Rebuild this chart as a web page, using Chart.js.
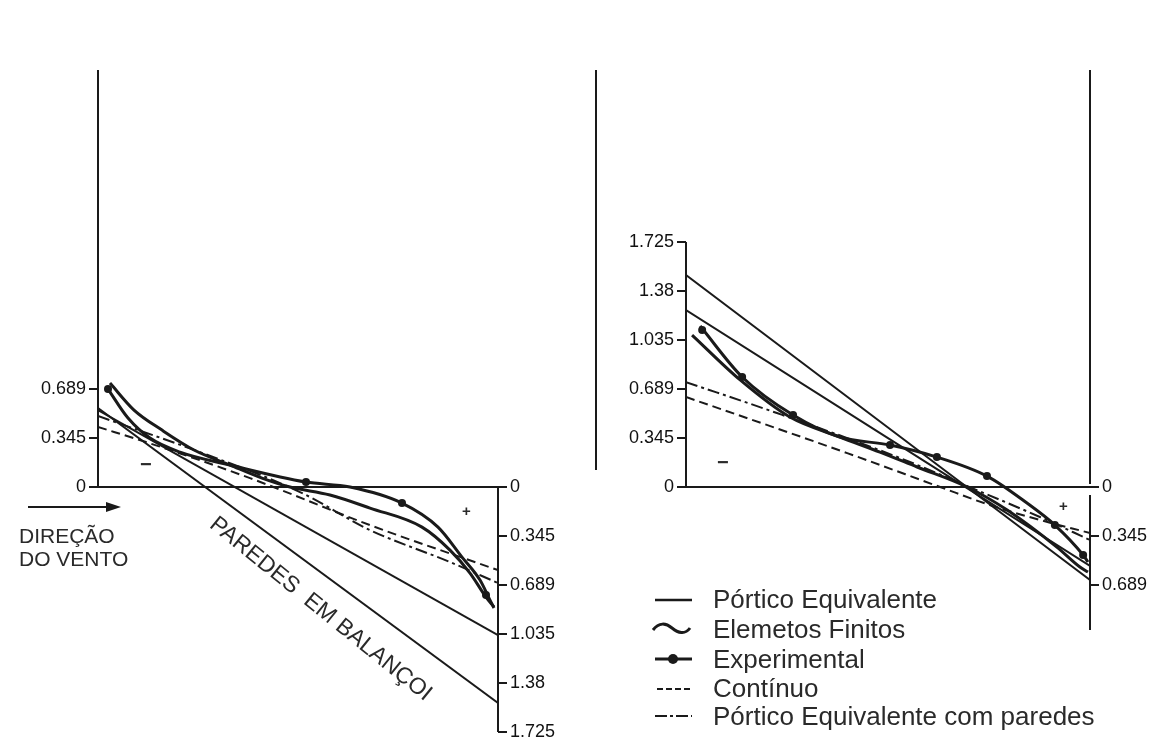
<!DOCTYPE html>
<html>
<head>
<meta charset="utf-8">
<script src="https://cdn.jsdelivr.net/npm/chart.js@4.4.0/dist/chart.umd.min.js"></script>
<style>
  body { margin: 0; background: #fff; }
  #wrap { position: relative; width: 1158px; height: 743px; overflow: hidden;
          font-family: 'Liberation Sans', Arial, sans-serif; color: #2a2a2a; }
  canvas { position: absolute; left: 0; top: 0; pointer-events: none; }
  svg { position: absolute; left: 0; top: 0; }
  .note { position: absolute; white-space: pre; }
  .leg { position: absolute; left: 713px; font-size: 26px; line-height: 30px; white-space: pre; }
</style>
</head>
<body>
<div id="wrap">
  <canvas id="chart-left" width="1158" height="743"></canvas>
  <canvas id="chart-right" width="1158" height="743"></canvas>

  <svg width="1158" height="743">
    <!-- wind arrow -->
    <line x1="28" y1="507" x2="110" y2="507" stroke="#1a1a1a" stroke-width="2"/>
    <polygon points="106,502 121,507 106,512" fill="#1a1a1a"/>
    <!-- legend symbols -->
    <line x1="655" y1="600" x2="692" y2="600" stroke="#1a1a1a" stroke-width="2.5"/>
    <path d="M653,630 C659,622 666,623 672,628 C678,633 685,635 690,628" fill="none" stroke="#1a1a1a" stroke-width="3"/>
    <line x1="655" y1="659" x2="692" y2="659" stroke="#1a1a1a" stroke-width="3"/>
    <circle cx="673" cy="659" r="5" fill="#1a1a1a"/>
    <line x1="657" y1="689" x2="692" y2="689" stroke="#1a1a1a" stroke-width="2" stroke-dasharray="6,3"/>
    <line x1="655" y1="716" x2="692" y2="716" stroke="#1a1a1a" stroke-width="2" stroke-dasharray="12,3,3,3"/>
  </svg>

  <div class="note" style="left:19px; top:524px; font-size:21px; line-height:23px;">DIREÇÃO
DO VENTO</div>
  <div class="note" style="left:221px; top:511px; font-size:23px; line-height:24px; transform:rotate(39deg); transform-origin:0 0;">PAREDES  EM BALANÇOI</div>
  <div class="note" style="left:140px; top:453px; font-size:20px; font-weight:bold;">−</div>
  <div class="note" style="left:717px; top:451px; font-size:20px; font-weight:bold;">−</div>
  <div class="note" style="left:462px; top:502px; font-size:15px; font-weight:bold;">+</div>
  <div class="note" style="left:1059px; top:497px; font-size:15px; font-weight:bold;">+</div>
  <div id="legend"></div>
</div>

<script>
const INK = '#1a1a1a';

// legend / series names
const legendLabels = ['Pórtico Equivalente', 'Elemetos Finitos', 'Experimental', 'Contínuo', 'Pórtico Equivalente com paredes'];

// tick labels
const leftPanelLeftTicks = ['0', '0.345', '0.689'];
const leftPanelRightTicks = ['0', '0.345', '0.689', '1.035', '1.38', '1.725'];
const rightPanelLeftTicks = ['0', '0.345', '0.689', '1.035', '1.38', '1.725'];
const rightPanelRightTicks = ['0', '0.345', '0.689'];

// x: 0 = left axis, 1 = right axis ; y: value (below the zero line is negative)
// left panel
const leftPorticoA = [[0, 0.556], [1, -1.521]];
const leftPorticoB = [[0, 0.542], [1, -1.042]];
const leftFinitos = [[0.03, 0.732], [0.09, 0.542], [0.16, 0.401], [0.24, 0.261], [0.33, 0.155], [0.41, 0.063],
  [0.48, 0.0], [0.58, -0.056], [0.68, -0.148], [0.81, -0.282], [0.88, -0.444], [0.93, -0.606], [0.97, -0.775], [0.99, -0.845]];
const leftExperimental = [[0.025, 0.69], [0.075, 0.486], [0.13, 0.345], [0.205, 0.246], [0.33, 0.155], [0.52, 0.035],
  [0.63, 0.0], [0.76, -0.113], [0.85, -0.282], [0.91, -0.493], [0.955, -0.655], [0.98, -0.796], [0.99, -0.852]];
const leftExpPoints = [[0.025, 0.69], [0.52, 0.035], [0.76, -0.113], [0.97, -0.76]];
const leftContinuo = [[0, 0.423], [0.12, 0.317], [0.38, 0.063], [0.68, -0.268], [1, -0.585]];
const leftPorticoParedes = [[0, 0.5], [0.255, 0.246], [0.505, -0.035], [0.68, -0.303], [0.88, -0.528], [1, -0.676]];

// right panel
const rightPorticoA = [[0, 1.493], [1, -0.655]];
const rightPorticoB = [[0, 1.246], [1, -0.556]];
const rightFinitos = [[0.015, 1.07], [0.134, 0.754], [0.257, 0.493], [0.381, 0.352], [0.48, 0.246], [0.572, 0.141],
  [0.696, 0.0], [0.795, -0.162], [0.918, -0.423], [0.975, -0.563], [0.995, -0.599]];
const rightExperimental = [[0.035, 1.134], [0.139, 0.775], [0.265, 0.507], [0.381, 0.352], [0.505, 0.296], [0.621, 0.211],
  [0.745, 0.077], [0.844, -0.113], [0.913, -0.268], [0.983, -0.479], [0.995, -0.528]];
const rightExpPoints = [[0.04, 1.106], [0.139, 0.775], [0.265, 0.507], [0.505, 0.296], [0.621, 0.211], [0.745, 0.077],
  [0.913, -0.268], [0.983, -0.479]];
const rightContinuo = [[0, 0.634], [0.399, 0.239], [0.629, 0.0], [0.752, -0.127], [0.876, -0.232], [1, -0.324]];
const rightPorticoParedes = [[0, 0.739], [0.225, 0.521], [0.53, 0.204], [0.678, 0.028], [0.876, -0.211], [1, -0.373]];

Chart.defaults.font.family = "'Liberation Sans', Arial, sans-serif";

const toXY = pts => pts.map(p => ({ x: p[0], y: p[1] }));

function line(label, pts, style) {
    return Object.assign({
        label: label,
        data: toXY(pts),
        borderColor: INK,
        backgroundColor: INK,
        borderWidth: 2,
        pointRadius: 0,
        fill: false,
        cubicInterpolationMode: 'monotone'
    }, style);
}

const thick = { borderWidth: 3 };
const dots = { showLine: false, pointRadius: 4, pointBackgroundColor: INK, pointBorderWidth: 0 };
const dashed = { borderDash: [9, 5] };
const dashDot = { borderDash: [12, 4, 3, 4] };

function tickAxis(position, labels, sign, min, max) {
    return {
        type: 'linear',
        position: position,
        min: min,
        max: max,
        afterBuildTicks: function(s) {
            s.ticks = labels.map(l => ({ value: sign * parseFloat(l) }));
        },
        afterFit: function(s) {
            s.width = 60;
            s.paddingTop = 0;
            s.paddingBottom = 0;
        },
        ticks: {
            autoSkip: false,
            callback: (v, i) => labels[i],
            color: '#111',
            padding: 3,
            font: { size: 18 }
        },
        grid: { drawOnChartArea: false, color: INK, lineWidth: 2, tickLength: 9 },
        border: { display: false }
    };
}

function drawSegments(ctx, segs) {
    ctx.save();
    ctx.strokeStyle = INK;
    ctx.lineWidth = 2;
    segs.forEach(s => {
        ctx.beginPath();
        ctx.moveTo(s[0], s[1]);
        ctx.lineTo(s[2], s[3]);
        ctx.stroke();
    });
    ctx.restore();
}

function panelOptions(padding, yMin, yMax, leftTicks, rightTicks) {
    return {
        responsive: false,
        animation: false,
        events: [],
        layout: { padding: padding, autoPadding: false },
        plugins: { legend: { display: false }, tooltip: { enabled: false } },
        scales: {
            x: { type: 'linear', min: 0, max: 1, display: false },
            y: tickAxis('left', leftTicks, 1, yMin, yMax),
            y2: tickAxis('right', rightTicks, -1, yMin, yMax)
        }
    };
}

/* Left panel */
const ctxLeft = document.querySelector('#chart-left').getContext('2d');
const chartLeft = new Chart(ctxLeft, {
    type: 'line',
    data: {
        datasets: [
            line(legendLabels[0], leftPorticoA, {}),
            line(legendLabels[0], leftPorticoB, {}),
            line(legendLabels[1], leftFinitos, thick),
            line(legendLabels[2], leftExperimental, thick),
            line(legendLabels[2], leftExpPoints, dots),
            line(legendLabels[3], leftContinuo, dashed),
            line(legendLabels[4], leftPorticoParedes, dashDot)
        ]
    },
    options: panelOptions({ left: 38, right: 600, top: 70, bottom: 8 }, -1.746, 2.937,
        leftPanelLeftTicks, leftPanelRightTicks),
    plugins: [{
        id: 'frameLeft',
        beforeDatasetsDraw(chart) {
            const a = chart.chartArea;
            const y = chart.scales.y;
            const y0 = y.getPixelForValue(0);
            drawSegments(chart.ctx, [
                [a.left, a.top, a.left, y0],
                [a.left, y0, a.right, y0],
                [a.right, y0, a.right, y.getPixelForValue(-1.725)]
            ]);
        }
    }]
});

/* Right panel */
const ctxRight = document.querySelector('#chart-right').getContext('2d');
const chartRight = new Chart(ctxRight, {
    type: 'line',
    data: {
        datasets: [
            line(legendLabels[0], rightPorticoA, {}),
            line(legendLabels[0], rightPorticoB, {}),
            line(legendLabels[1], rightFinitos, thick),
            line(legendLabels[2], rightExperimental, thick),
            line(legendLabels[2], rightExpPoints, dots),
            line(legendLabels[3], rightContinuo, dashed),
            line(legendLabels[4], rightPorticoParedes, dashDot)
        ]
    },
    options: panelOptions({ left: 626, right: 8, top: 70, bottom: 113 }, -1.007, 2.937,
        rightPanelLeftTicks, rightPanelRightTicks),
    plugins: [{
        id: 'frameRight',
        beforeDatasetsDraw(chart) {
            const a = chart.chartArea;
            const y = chart.scales.y;
            const y0 = y.getPixelForValue(0);
            drawSegments(chart.ctx, [
                [a.left - 90, a.top, a.left - 90, y0 - 17],
                [a.left, y.getPixelForValue(1.725), a.left, y0],
                [a.left, y0, a.right, y0],
                [a.right, a.top, a.right, y0 - 3],
                [a.right, y0 + 8, a.right, a.bottom]
            ]);
        }
    }]
});

/* Legend text */
const legendRowsY = [599, 629, 659, 688, 716];
const legendBox = document.querySelector('#legend');
legendLabels.forEach(function(text, i) {
    const d = document.createElement('div');
    d.className = 'leg';
    d.style.top = (legendRowsY[i] - 15) + 'px';
    d.textContent = text;
    legendBox.appendChild(d);
});
</script>
</body>
</html>
